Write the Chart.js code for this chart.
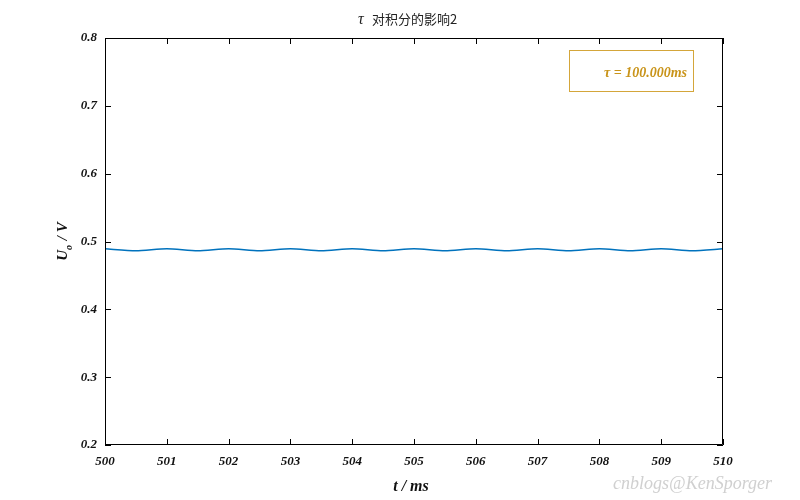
<!DOCTYPE html>
<html>
<head>
<meta charset="utf-8">
<script src="https://cdn.jsdelivr.net/npm/chart.js@4/dist/chart.umd.min.js"></script>
<style>
  html, body { margin: 0; padding: 0; background: #fff; }
  #wrap { width: 800px; height: 500px; position: relative; }
</style>
</head>
<body>
<div id="wrap"><canvas id="chartTau"></canvas></div>
<script>
/* ── Data ─────────────────────────────────── */
const tValues = [500, 500.5, 501, 501.5, 502, 502.5, 503, 503.5, 504, 504.5, 505,
                 505.5, 506, 506.5, 507, 507.5, 508, 508.5, 509, 509.5, 510];
const uValues = [0.4893, 0.4862, 0.4893, 0.4862, 0.4893, 0.4862, 0.4893, 0.4862, 0.4893, 0.4862, 0.4893,
                 0.4862, 0.4893, 0.4862, 0.4893, 0.4862, 0.4893, 0.4862, 0.4893, 0.4862, 0.4893];
const xTicks = [500, 501, 502, 503, 504, 505, 506, 507, 508, 509, 510];
const yTicks = [0.2, 0.3, 0.4, 0.5, 0.6, 0.7, 0.8];
const legendText = '\u03C4 = 100.000ms';
const titleText  = '对积分的影响2';

const serif = '"Times New Roman", "Liberation Serif", "DejaVu Serif", serif';
const tickFont = { family: serif, size: 13, style: 'italic', weight: 'bold' };

/* ── Decorations: inward ticks, box, labels ─ */
const matlabBox = {
  id: 'matlabBox',
  afterDraw(chart) {
    const { ctx, chartArea: a, scales: { x, y } } = chart;
    ctx.save();
    ctx.strokeStyle = '#000';
    ctx.lineWidth = 1;
    ctx.beginPath();
    ctx.rect(a.left + 0.5, a.top + 0.5, a.right - a.left - 1, a.bottom - a.top - 1);
    const tl = 6;
    xTicks.forEach(v => {
      const px = Math.round(x.getPixelForValue(v)) + 0.5;
      ctx.moveTo(px, a.bottom); ctx.lineTo(px, a.bottom - tl);
      ctx.moveTo(px, a.top);    ctx.lineTo(px, a.top + tl);
    });
    yTicks.forEach(v => {
      const py = Math.round(y.getPixelForValue(v)) + 0.5;
      ctx.moveTo(a.left, py);  ctx.lineTo(a.left + tl, py);
      ctx.moveTo(a.right, py); ctx.lineTo(a.right - tl, py);
    });
    ctx.stroke();

    // title
    ctx.fillStyle = '#222';
    ctx.textBaseline = 'middle';
    ctx.font = 'italic 16px ' + serif;
    const tauW = ctx.measureText('\u03C4 ').width;
    ctx.font = '13px "Noto Sans CJK SC", sans-serif';
    const restW = ctx.measureText(titleText).width;
    const tx = 358;
    ctx.font = 'italic 16px ' + serif;
    ctx.textAlign = 'left';
    ctx.fillText('\u03C4', tx, 20);
    ctx.font = '13px "Noto Sans CJK SC", sans-serif';
    ctx.fillText(titleText, tx + 14, 19);

    // x label
    ctx.fillStyle = '#111';
    ctx.font = 'italic bold 16px ' + serif;
    ctx.textAlign = 'center';
    ctx.fillText('t / ms', 411, 487);

    // y label with subscript
    ctx.save();
    ctx.translate(63, 242);
    ctx.rotate(-Math.PI / 2);
    ctx.font = 'italic bold 15px ' + serif;
    const wU = ctx.measureText('U').width;
    ctx.font = 'italic bold 10px ' + serif;
    const wO = ctx.measureText('o').width;
    ctx.font = 'italic bold 15px ' + serif;
    const wR = ctx.measureText(' / V').width;
    let sx = -(wU + wO + wR) / 2;
    ctx.textAlign = 'left';
    ctx.fillText('U', sx, 0);
    ctx.font = 'italic bold 10px ' + serif;
    ctx.fillText('o', sx + wU, 6);
    ctx.font = 'italic bold 15px ' + serif;
    ctx.fillText(' / V', sx + wU + wO + 1, 0);
    ctx.restore();

    // legend box
    ctx.strokeStyle = '#d4a63a';
    ctx.lineWidth = 1;
    ctx.strokeRect(569.5, 50.5, 124, 41);
    ctx.fillStyle = '#c9941a';
    ctx.font = 'italic bold 14px ' + serif;
    ctx.textAlign = 'right';
    ctx.fillText(legendText, 687, 73);

    // watermark
    ctx.fillStyle = '#d0d0d0';
    ctx.font = 'italic 18px ' + serif;
    ctx.textAlign = 'right';
    ctx.fillText('cnblogs@KenSporger', 772, 484);
    ctx.restore();
  }
};

/* ── Chart ────────────────────────────────── */
new Chart(document.getElementById('chartTau'), {
  type: 'line',
  data: {
    datasets: [{
      data: tValues.map((t, i) => ({ x: t, y: uValues[i] })),
      borderColor: '#0072BD',
      borderWidth: 1.5,
      pointRadius: 0,
      tension: 0.25,
      fill: false,
    }]
  },
  options: {
    responsive: true,
    maintainAspectRatio: false,
    animation: false,
    layout: { padding: { top: 38, right: 77, left: 0, bottom: 0 } },
    plugins: { legend: { display: false }, title: { display: false }, tooltip: { enabled: false } },
    scales: {
      x: {
        type: 'linear', min: 500, max: 510,
        afterFit: s => { s.height = 55; },
        afterBuildTicks: s => { s.ticks = xTicks.map(v => ({ value: v })); },
        grid: { display: false, drawTicks: false },
        border: { display: false },
        ticks: { color: '#111', font: tickFont, padding: 9, maxRotation: 0, callback: v => String(v) },
      },
      y: {
        type: 'linear', min: 0.2, max: 0.8,
        afterFit: s => { s.width = 105; },
        afterBuildTicks: s => { s.ticks = yTicks.map(v => ({ value: v })); },
        grid: { display: false, drawTicks: false },
        border: { display: false },
        ticks: { color: '#111', font: tickFont, padding: 8, callback: v => v.toFixed(1) },
      }
    }
  },
  plugins: [matlabBox]
});
</script>
</body>
</html>
